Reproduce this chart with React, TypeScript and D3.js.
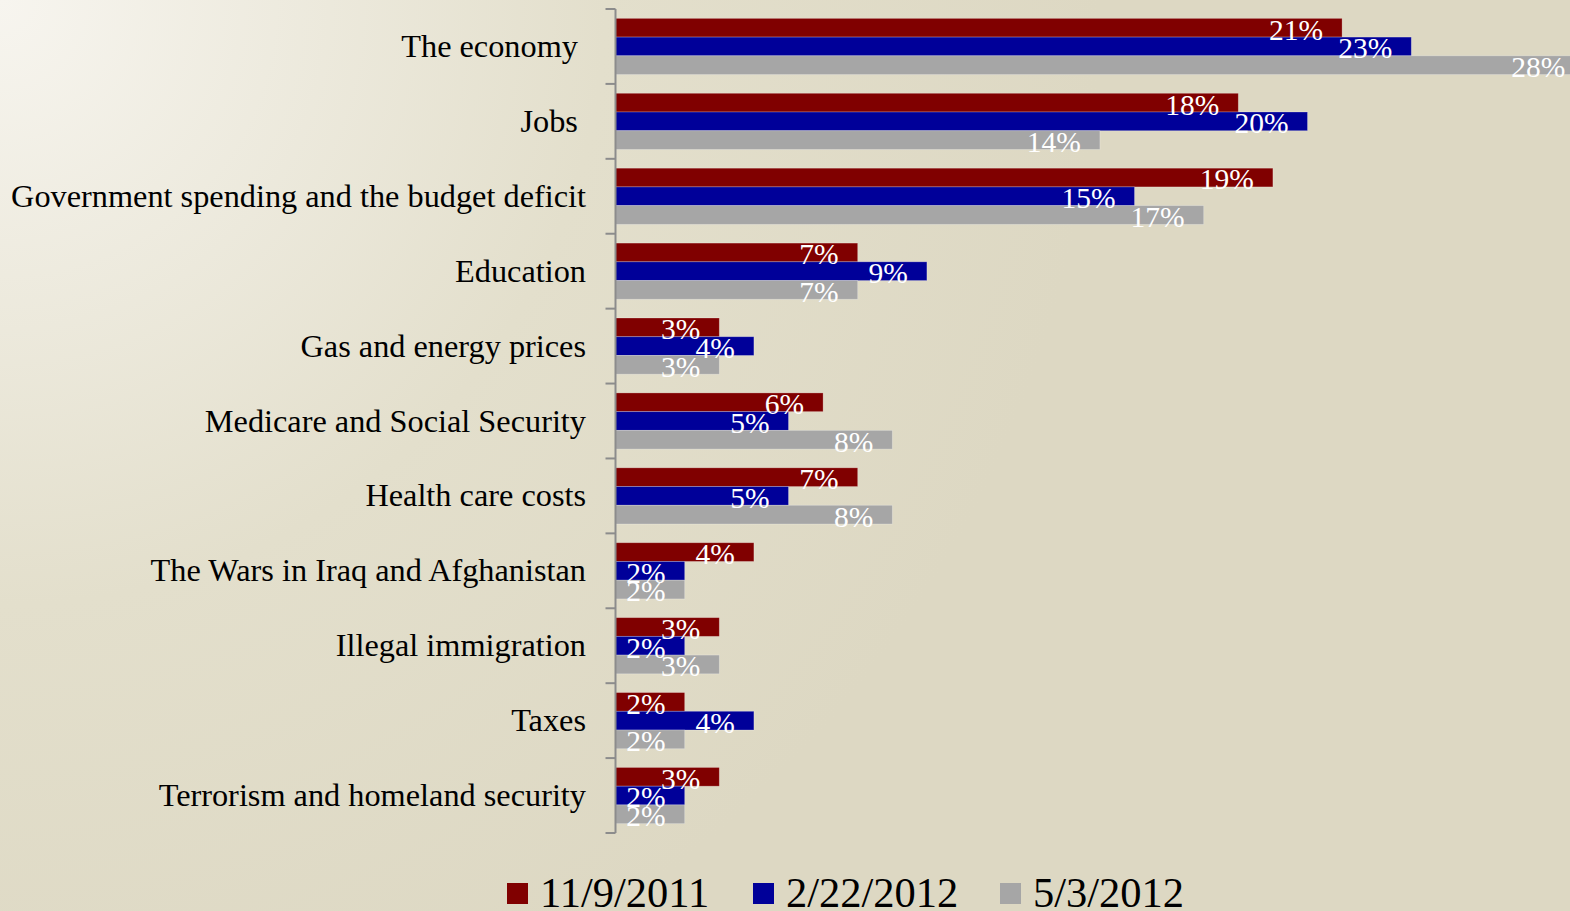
import React from "react";
import * as d3 from "d3";

const categories = [
  "The economy ",
  "Jobs ",
  "Government spending and the budget deficit",
  "Education",
  "Gas and energy prices",
  "Medicare and Social Security",
  "Health care costs",
  "The Wars in Iraq and Afghanistan",
  "Illegal immigration",
  "Taxes",
  "Terrorism and homeland security",
];
const seriesNames = ["11/9/2011", "2/22/2012", "5/3/2012"];
const seriesColors = ["#800000", "#000099", "#a6a6a6"];
const nov2011 = [21, 18, 19, 7, 3, 6, 7, 4, 3, 2, 3];
const feb2012 = [23, 20, 15, 9, 4, 5, 5, 2, 2, 4, 2];
const may2012 = [28, 14, 17, 7, 3, 8, 8, 2, 3, 2, 2];
const seriesValues = [nov2011, feb2012, may2012];

const W = 1570;
const H = 911;
const axisX = 615.5;
const top = 9;
const bottom = 833;
const FONT = "'Liberation Serif', 'Times New Roman', serif";

export default function App() {
  const y = d3.scaleBand<string>().domain(categories).range([top, bottom]).paddingInner(0).paddingOuter(0);
  const x = d3.scaleLinear().domain([0, 28]).range([axisX, axisX + 28 * 34.6]);
  const band = y.bandwidth();
  const barH = band / 4;
  const inner = d3.scaleBand<number>().domain([0, 1, 2]).range([band / 8, band - band / 8]);
  const legendX = [507, 753, 1000];

  return (
    <div style={{ position: "absolute", left: 0, top: 0, width: W, height: H, overflow: "hidden" }}>
      <svg width={W} height={H} style={{ display: "block" }}>
        <defs>
          <radialGradient id="bg" cx="0" cy="0" r="1100" gradientUnits="userSpaceOnUse">
            <stop offset="0" stopColor="#f7f5ef" />
            <stop offset="0.55" stopColor="#e3dfcc" />
            <stop offset="1" stopColor="#ddd8c3" />
          </radialGradient>
        </defs>
        <rect x={0} y={0} width={W} height={H} fill="url(#bg)" />

        {categories.map((c, i) =>
          seriesValues.map((vals, s) => {
            const by = (y(c) as number) + (inner(s) as number);
            return (
              <rect
                key={`b-${i}-${s}`}
                x={x(0)}
                y={by}
                width={x(vals[i]) - x(0)}
                height={barH}
                fill={seriesColors[s]}
                stroke="rgba(255,255,255,0.3)"
                strokeWidth={0.8}
              />
            );
          })
        )}

        {categories.map((c, i) =>
          seriesValues.map((vals, s) => {
            const by = (y(c) as number) + (inner(s) as number);
            return (
              <text
                key={`l-${i}-${s}`}
                x={x(vals[i]) - 19}
                y={by + barH + 2.5}
                textAnchor="end"
                fill="#ffffff"
                fontFamily={FONT}
                fontSize={29.5}
              >
                {vals[i]}%
              </text>
            );
          })
        )}

        <line x1={axisX} x2={axisX} y1={top} y2={bottom} stroke="#8c8c8c" strokeWidth={2} />
        {d3.range(categories.length + 1).map((k) => {
          const ty = top + k * band;
          return <line key={`t-${k}`} x1={axisX - 10} x2={axisX} y1={ty} y2={ty} stroke="#8c8c8c" strokeWidth={2} />;
        })}

        {categories.map((c) => (
          <text
            key={`c-${c}`}
            x={586}
            y={(y(c) as number) + band / 2 + 10.5}
            textAnchor="end"
            fill="#000000"
            fontFamily={FONT}
            fontSize={32.3}
            style={{ whiteSpace: "pre" }}
          >
            {c}
          </text>
        ))}

        {seriesNames.map((n, s) => (
          <g key={`lg-${s}`}>
            <rect x={legendX[s]} y={883} width={21} height={21} fill={seriesColors[s]} />
            <text x={legendX[s] + 33} y={907} fill="#000000" fontFamily={FONT} fontSize={42.5}>
              {n}
            </text>
          </g>
        ))}
      </svg>
    </div>
  );
}
